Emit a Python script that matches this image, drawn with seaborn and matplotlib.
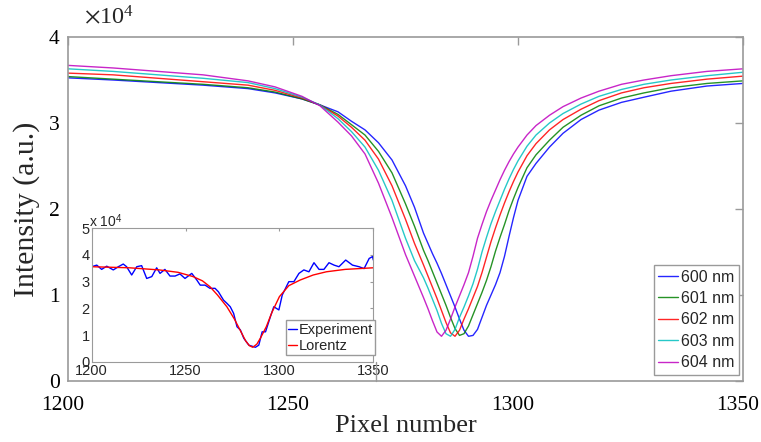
import matplotlib
matplotlib.use("Agg")
import matplotlib.pyplot as plt
import matplotlib.transforms as mtransforms
import seaborn as sns
import numpy as np
from matplotlib.lines import Line2D

sns.set_theme(style="white")
plt.rcParams["font.family"] = ["Liberation Serif", "DejaVu Serif"]
plt.rcParams["mathtext.fontset"] = "stix"

# 像素坐标 (main plot, x axis)
pixel = [1200, 1210, 1220, 1230, 1240, 1246, 1252, 1256, 1260, 1263, 1266, 1269,
         1272, 1275, 1277, 1279, 1280, 1281, 1282, 1283, 1284, 1285, 1286, 1287,
         1288, 1289, 1290, 1291, 1292, 1293, 1294, 1295, 1296, 1297, 1298, 1299,
         1300, 1302, 1304, 1307, 1310, 1314, 1318, 1323, 1328, 1334, 1342, 1350]

# intensity, in units of 1e4
i600 = [3.525, 3.50, 3.47, 3.44, 3.40, 3.35, 3.28, 3.21, 3.13, 3.02, 2.92, 2.77,
        2.57, 2.27, 2.02, 1.72, 1.60, 1.48, 1.37, 1.25, 1.12, 0.99, 0.86, 0.72,
        0.59, 0.52, 0.53, 0.60, 0.74, 0.88, 1.00, 1.12, 1.26, 1.45, 1.68, 1.90,
        2.10, 2.38, 2.53, 2.72, 2.88, 3.04, 3.15, 3.24, 3.30, 3.37, 3.43, 3.46]
i601 = [3.54, 3.51, 3.48, 3.45, 3.41, 3.36, 3.28, 3.21, 3.10, 2.98, 2.86, 2.67,
        2.42, 2.06, 1.80, 1.52, 1.40, 1.27, 1.14, 1.01, 0.88, 0.74, 0.61, 0.53,
        0.55, 0.64, 0.77, 0.90, 1.03, 1.17, 1.33, 1.51, 1.67, 1.82, 1.98, 2.12,
        2.25, 2.48, 2.63, 2.80, 2.95, 3.09, 3.20, 3.29, 3.35, 3.41, 3.46, 3.49]
i602 = [3.58, 3.56, 3.52, 3.48, 3.44, 3.38, 3.29, 3.21, 3.08, 2.95, 2.80, 2.58,
        2.27, 1.88, 1.60, 1.35, 1.22, 1.09, 0.96, 0.82, 0.68, 0.56, 0.52, 0.59,
        0.72, 0.84, 0.97, 1.10, 1.26, 1.44, 1.62, 1.78, 1.93, 2.07, 2.20, 2.32,
        2.43, 2.62, 2.76, 2.92, 3.04, 3.16, 3.26, 3.35, 3.41, 3.46, 3.51, 3.545]
i603 = [3.63, 3.60, 3.56, 3.52, 3.47, 3.40, 3.30, 3.21, 3.05, 2.90, 2.72, 2.45,
        2.10, 1.66, 1.40, 1.20, 1.08, 0.95, 0.82, 0.67, 0.55, 0.52, 0.60, 0.74,
        0.86, 0.99, 1.13, 1.30, 1.50, 1.67, 1.83, 1.97, 2.10, 2.23, 2.35, 2.46,
        2.56, 2.73, 2.86, 3.00, 3.11, 3.22, 3.31, 3.39, 3.45, 3.50, 3.55, 3.59]
i604 = [3.67, 3.64, 3.60, 3.56, 3.49, 3.42, 3.31, 3.20, 3.01, 2.85, 2.64, 2.30,
        1.90, 1.47, 1.22, 0.97, 0.84, 0.70, 0.57, 0.52, 0.59, 0.72, 0.86, 0.99,
        1.12, 1.26, 1.45, 1.66, 1.82, 1.97, 2.10, 2.22, 2.34, 2.45, 2.55, 2.64,
        2.72, 2.86, 2.97, 3.09, 3.19, 3.29, 3.37, 3.45, 3.50, 3.55, 3.60, 3.63]

labels = ["600 nm", "601 nm", "602 nm", "603 nm", "604 nm"]
colors = ["#0000ff", "#008000", "#ff0000", "#00bfbf", "#bf00bf"]

# 插图数据 (inset)
exp_x = [1200, 1202.7, 1205.3, 1208, 1211.5, 1214.2, 1216.8, 1218.6, 1221.3, 1224,
         1226.6, 1229.3, 1232, 1234.6, 1236.4, 1239, 1241.7, 1244.4, 1247, 1249.7,
         1253.3, 1256, 1257.8, 1260.4, 1263, 1265.7, 1267.5, 1270.2, 1272, 1273.8,
         1275.6, 1277.4, 1279.2, 1281, 1283.7, 1287.2, 1289, 1290.8, 1292.6, 1295.2,
         1297, 1299.7, 1301.5, 1305, 1307.7, 1310.4, 1313, 1315.7, 1318.4, 1321.1,
         1323.7, 1326.4, 1329.1, 1331.7, 1335.3, 1338.9, 1342.4, 1345.1, 1347.8,
         1349.6, 1350]
exp_y = [3.56, 3.62, 3.46, 3.58, 3.44, 3.56, 3.66, 3.56, 3.25, 3.56,
         3.60, 3.12, 3.19, 3.52, 3.31, 3.46, 3.21, 3.21, 3.29, 3.12,
         3.31, 3.06, 2.87, 2.87, 2.75, 2.75, 2.62, 2.31, 2.19, 2.06,
         1.81, 1.31, 1.19, 0.88, 0.62, 0.54, 0.62, 1.12, 1.12, 1.69,
         2.06, 1.94, 2.50, 3.00, 3.00, 3.31, 3.44, 3.37, 3.71, 3.46,
         3.46, 3.71, 3.62, 3.56, 3.81, 3.62, 3.56, 3.49, 3.87,
         3.94, 3.81]
fit_x = [1200, 1220, 1236, 1246, 1254, 1259, 1263, 1267, 1272, 1276, 1279, 1282,
         1284, 1285.8, 1288, 1290, 1293, 1296, 1300, 1305, 1311, 1318, 1325, 1335, 1350]
fit_y = [3.56, 3.52, 3.44, 3.35, 3.19, 3.03, 2.81, 2.50, 2.06, 1.60, 1.19, 0.78,
         0.60, 0.54, 0.66, 0.90, 1.31, 1.85, 2.44, 2.85, 3.06, 3.25, 3.37, 3.46, 3.52]

# === 画图 ===
fig = plt.figure(figsize=(7.61, 4.42), dpi=100)
ax = fig.add_axes([68 / 761, 1 - 381 / 442, 675 / 761, 344 / 442])

for ys, lab, c in zip([i600, i601, i602, i603, i604], labels, colors):
    sns.lineplot(x=pixel, y=ys, color=c, label=lab, lw=1.0, alpha=0.85, ax=ax)

frame = "#9a9a9a"
ax.set_xlim(1200, 1350)
ax.set_ylim(0, 4)
ax.set_xticks([1200, 1250, 1300, 1350])
ax.set_yticks([0, 1, 2, 3, 4])
for s in ax.spines.values():
    s.set_color(frame)
    s.set_linewidth(1.2)
ax.tick_params(direction="in", length=6, width=1, color=frame, top=True, right=True,
               labelsize=15.5, labelcolor="black")
ax.tick_params(axis="x", pad=11)
ax.tick_params(axis="y", pad=6)
# x 刻度标签略向左移 (as in the original)
shift = mtransforms.ScaledTranslation(-5 / 100, 0, fig.dpi_scale_trans)
for t in ax.get_xticklabels():
    t.set_transform(t.get_transform() + shift)
ax.set_xlabel("Pixel number", fontsize=19, labelpad=0)
ax.set_ylabel("Intensity (a.u.)", fontsize=21.5, labelpad=6)
fig.text(84 / 761, 1 - 24 / 442, r"$\times\mathregular{10^4}$", fontsize=17.5)

leg = ax.legend(loc="lower right", bbox_to_anchor=(1 - 4 / 675, 6 / 344), borderaxespad=0,
                prop={"family": "Liberation Sans", "size": 11.5}, handlelength=1.2,
                handletextpad=0.2, labelspacing=0.4, borderpad=0.3, fancybox=False,
                framealpha=1)
leg.get_frame().set_edgecolor(frame)

# 插图
ins = fig.add_axes([91.7 / 761, 1 - 361.7 / 442, 281.6 / 761, 133.4 / 442])
sns.lineplot(x=exp_x, y=exp_y, color="#0000ff", lw=1.0, label="Experiment", ax=ins)
sns.lineplot(x=fit_x, y=fit_y, color="#ff0000", lw=1.0, label="Lorentz", ax=ins)
ins.set_xlim(1200, 1350)
ins.set_ylim(0, 5)
ins.set_xticks([1200, 1250, 1300, 1350])
ins.set_yticks([0, 1, 2, 3, 4, 5])
for s in ins.spines.values():
    s.set_color(frame)
    s.set_linewidth(0.8)
ins.tick_params(direction="in", length=2.5, width=0.8, color=frame, top=True, right=True,
                labelsize=10.5, pad=1.5)
for t in ins.get_xticklabels() + ins.get_yticklabels():
    t.set_family("Liberation Sans")
fig.text(89 / 761, 1 - 227 / 442, r"x 10$^{\mathregular{4}}$", fontsize=10,
         family="Liberation Sans")
ileg = ins.legend(loc="lower right", bbox_to_anchor=(1.006, 0.05), borderaxespad=0,
                  prop={"family": "Liberation Sans", "size": 10.5}, handlelength=0.6,
                  handletextpad=0.1, labelspacing=0.15, borderpad=0.15, fancybox=False,
                  framealpha=1)
ileg.get_frame().set_edgecolor(frame)

# 插图外框 (右下角)
fig.add_artist(Line2D([376 / 761, 376 / 761], [1 - 381 / 442, 1 - 362 / 442],
                      color=frame, lw=1.0))

fig.savefig("out.png", dpi=100)
